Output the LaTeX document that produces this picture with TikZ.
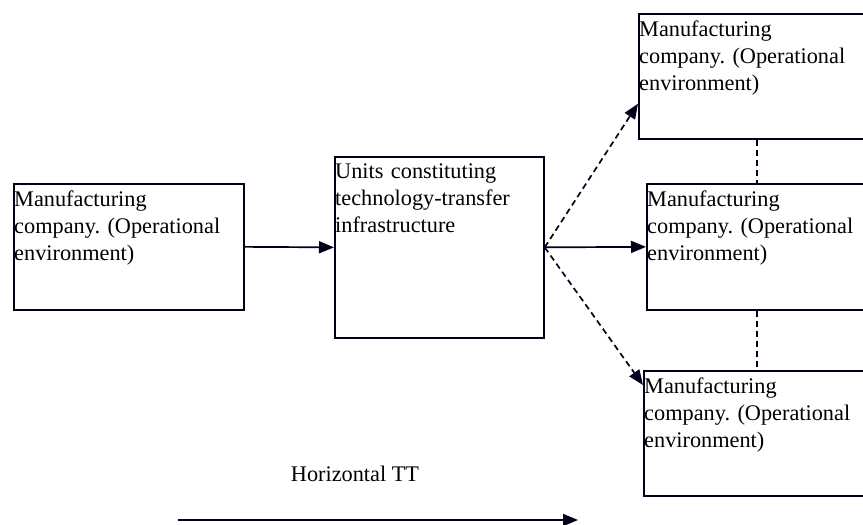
\documentclass[tikz,border=0pt]{standalone}
\usepackage{fontspec}
\setmainfont{Liberation Serif}
\usetikzlibrary{arrows.meta}
\frenchspacing
\tikzset{
  box/.style={draw=black!90!blue, line width=1.7pt, rectangle, inner sep=0pt, anchor=north west},
  txt/.style={anchor=north west, inner xsep=1pt, inner ysep=8pt, align=left, font=\fontsize{22.3}{26.7}\selectfont, text width=228pt},
  conn/.style={line width=1.7pt, draw=black!90!blue, -{Triangle[length=15pt,width=12pt]}},
  dconn/.style={conn, dash pattern=on 6pt off 4pt},
  dline/.style={line width=1.7pt, draw=black!90!blue, dash pattern=on 6pt off 4pt}
}
\begin{document}
\begin{tikzpicture}[x=1pt,y=-1pt]
\useasboundingbox (0,0) rectangle (863,525);
% boxes
\node[box, minimum width=230pt, minimum height=126pt] (L) at (13,183) {};
\node[box, minimum width=209pt, minimum height=181pt] (C) at (334,156) {};
\node[box, minimum width=230pt, minimum height=125pt] (T) at (638,13) {};
\node[box, minimum width=222pt, minimum height=126pt] (M) at (646,183) {};
\node[box, minimum width=225pt, minimum height=125pt] (B) at (643,370) {};
% texts
\node[txt] (Lt) at (L.north west) {Manufacturing\\company. (Operational\\environment)};
\node[txt] (Ct) at (C.north west) {Units constituting\\technology-transfer\\infrastructure};
\node[txt] (Tt) at (T.north west) {Manufacturing\\company. (Operational\\environment)};
\node[txt] (Mt) at (M.north west) {Manufacturing\\company. (Operational\\environment)};
\node[txt] (Bt) at (B.north west) {Manufacturing\\company. (Operational\\environment)};
% connectors
\draw[conn] (L.east) -- (C.west);
\draw[conn] (C.east) -- (M.west);
\draw[dconn] (C.east) -- ([yshift=36pt]T.south west);
\draw[dconn] (C.east) -- ([yshift=-15pt]B.north west);
\coordinate (vx) at (757,0);
\draw[dline] (T.south -| vx) -- (M.north -| vx);
\draw[dline] (M.south -| vx) -- (B.north -| vx);
% horizontal TT
\node[font=\fontsize{22.3}{26.7}\selectfont, inner sep=0pt] (H) at (355,474) {Horizontal TT};
\coordinate (a0) at (178,520);
\coordinate (a1) at (578,520);
\draw[conn] (a0) -- (a1);
\end{tikzpicture}
\end{document}
